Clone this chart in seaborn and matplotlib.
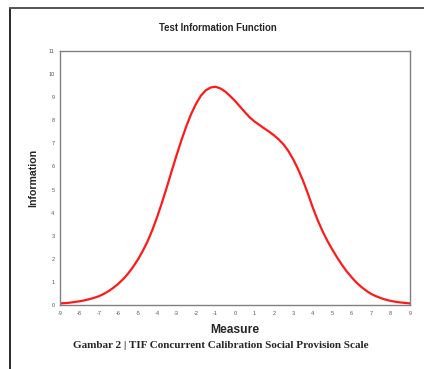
import matplotlib
matplotlib.use("Agg")
import matplotlib.pyplot as plt
from matplotlib.lines import Line2D
import seaborn as sns
import pandas as pd

measure = [-9, -8.75, -8.5, -8.25, -8, -7.75, -7.5, -7.25, -7, -6.75, -6.5, -6.25,
           -6, -5.75, -5.5, -5.25, -5, -4.75, -4.5, -4.25, -4, -3.75, -3.5, -3.25,
           -3, -2.75, -2.5, -2.25, -2, -1.75, -1.5, -1.25, -1, -0.75, -0.5, -0.25,
           0, 0.25, 0.5, 0.75, 1, 1.25, 1.5, 1.75, 2, 2.25, 2.5, 2.75, 3, 3.25,
           3.5, 3.75, 4, 4.25, 4.5, 4.75, 5, 5.25, 5.5, 5.75, 6, 6.25, 6.5, 6.75,
           7, 7.25, 7.5, 7.75, 8, 8.25, 8.5, 8.75, 9]
information = [0.07, 0.08, 0.10, 0.13, 0.16, 0.20, 0.25, 0.31, 0.38, 0.48, 0.60,
               0.75, 0.92, 1.12, 1.36, 1.64, 1.96, 2.33, 2.75, 3.25, 3.82, 4.45,
               5.12, 5.82, 6.50, 7.15, 7.75, 8.28, 8.72, 9.07, 9.30, 9.42, 9.45,
               9.38, 9.24, 9.05, 8.84, 8.60, 8.36, 8.13, 7.95, 7.80, 7.65, 7.51,
               7.35, 7.17, 6.95, 6.66, 6.30, 5.87, 5.38, 4.82, 4.22, 3.68, 3.20,
               2.78, 2.41, 2.06, 1.74, 1.45, 1.20, 0.97, 0.78, 0.62, 0.48, 0.38,
               0.30, 0.23, 0.18, 0.14, 0.11, 0.09, 0.07]
x_ticks = list(range(-9, 10))
y_ticks = list(range(0, 12))

df = pd.DataFrame({"Measure": measure, "Information": information})

sns.set_style("white")
plt.rcParams["font.family"] = ["Liberation Sans", "DejaVu Sans"]

W, H = 424, 369
fig = plt.figure(figsize=(W / 100, H / 100), dpi=100)
ax = fig.add_axes([60 / W, 1 - 305 / H, 350 / W, 254 / H])

sns.lineplot(data=df, x="Measure", y="Information", ax=ax, color="#ff1a1a",
             linewidth=1.6, estimator=None, sort=False)

ax.set_xlim(-9, 9)
ax.set_ylim(0, 11)
ax.set_xticks(x_ticks)
ax.set_yticks(y_ticks)
ax.set_xticklabels([str(t) for t in x_ticks])
ax.set_yticklabels([str(t) for t in y_ticks])
ax.tick_params(axis="both", which="major", direction="inout", length=4,
               width=0.8, color="#707070", labelsize=4, labelcolor="#555555",
               pad=2)
for s in ax.spines.values():
    s.set_color("#808080")
    s.set_linewidth(1.0)
    s.set_visible(True)

ax.set_xlabel("Measure", fontsize=8.7, fontweight="bold", labelpad=6)
ax.set_ylabel("Information", fontsize=7.6, fontweight="bold", labelpad=7)

fig.text(217.5 / W, 1 - 28 / H, "Test Information Function", ha="center",
         va="center", fontsize=6.9, fontweight="bold")
fig.text(221 / W, 1 - 345 / H,
         "Gambar 2 | TIF Concurrent Calibration Social Provision Scale",
         ha="center", va="center", fontsize=8.0, fontweight="bold",
         family=["Liberation Serif", "DejaVu Serif"])

# outer frame (left and top)
fig.add_artist(Line2D([10 / W, 10 / W], [0, 1 - 8 / H], transform=fig.transFigure,
                      color="#2a2a2a", linewidth=1.4))
fig.add_artist(Line2D([10 / W, 1], [1 - 8 / H, 1 - 8 / H], transform=fig.transFigure,
                      color="#555555", linewidth=1.4))

fig.savefig("out.png", dpi=100)
